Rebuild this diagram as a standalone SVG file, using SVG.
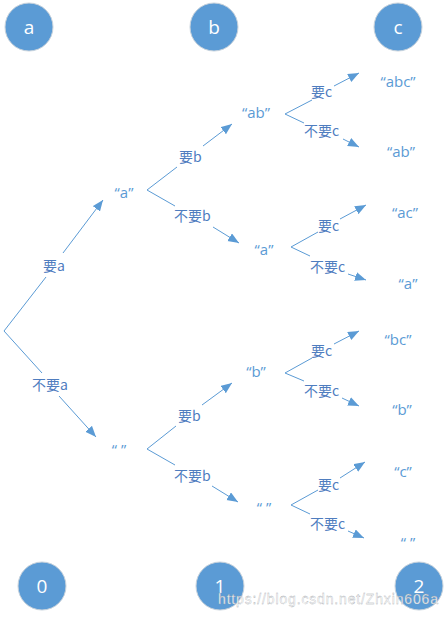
<svg xmlns="http://www.w3.org/2000/svg" width="448" height="618" viewBox="0 0 448 618">
<style>
.n circle{fill:#5B9BD5;stroke:#c9d3dc;stroke-width:1}
.n text{fill:#fff;font-family:"Open Sans","Noto Sans",sans-serif;font-size:19px;text-anchor:middle}
.e line{stroke:#5B9BD5;stroke-width:1;fill:none}
.lbl{fill:#4F7DBF;font-family:"Noto Sans CJK SC","Noto Sans",sans-serif;font-size:14px}
.s{fill:#5B9BD5;font-family:"Open Sans","Noto Sans",sans-serif;font-size:15px;text-anchor:middle}
.wm{fill:#fff;stroke:#9aa0a6;stroke-width:0.3;font-family:"Liberation Sans",Arial,sans-serif;font-size:14px;opacity:0.9}
</style>
<defs>
<marker id="arr" markerUnits="userSpaceOnUse" markerWidth="12" markerHeight="10" refX="11" refY="4.5" orient="auto">
<path d="M0,0 L11,4.5 L0,9 Z" fill="#5B9BD5"/>
</marker>
</defs>
<rect width="448" height="618" fill="#fff"/>
<g id="col-a" class="n"><circle cx="29" cy="27" r="24"/><text x="29" y="34">a</text></g>
<g id="col-b" class="n"><circle cx="214" cy="27" r="24"/><text x="214" y="34">b</text></g>
<g id="col-c" class="n"><circle cx="398" cy="27" r="24"/><text x="398" y="34">c</text></g>
<g id="lvl-0" class="n"><circle cx="42" cy="586" r="24"/><text x="42" y="593">0</text></g>
<g id="lvl-1" class="n"><circle cx="220" cy="586" r="24"/><text x="220" y="593">1</text></g>
<g id="lvl-2" class="n"><circle cx="419" cy="586" r="24"/><text x="419" y="593">2</text></g>
<g id="connectors" class="e">
<line x1="4" y1="331" x2="46" y2="277"/><line x1="63" y1="253" x2="103" y2="200" marker-end="url(#arr)"/>
<line x1="4" y1="331" x2="42" y2="373"/><line x1="59" y1="396" x2="96" y2="437" marker-end="url(#arr)"/>
<line x1="147" y1="190" x2="177" y2="167"/><line x1="203" y1="146" x2="232" y2="124" marker-end="url(#arr)"/>
<line x1="147" y1="190" x2="175" y2="206"/><line x1="213" y1="227" x2="239" y2="243" marker-end="url(#arr)"/>
<line x1="147" y1="449" x2="176" y2="426"/><line x1="202" y1="405" x2="232" y2="383" marker-end="url(#arr)"/>
<line x1="147" y1="449" x2="175" y2="465"/><line x1="212" y1="486" x2="238" y2="502" marker-end="url(#arr)"/>
<line x1="285" y1="114" x2="312" y2="100"/><line x1="334" y1="86" x2="359" y2="73" marker-end="url(#arr)"/>
<line x1="285" y1="114" x2="304" y2="123"/><line x1="343" y1="139" x2="359" y2="147" marker-end="url(#arr)"/>
<line x1="291" y1="247" x2="318" y2="232"/><line x1="340" y1="219" x2="366" y2="205" marker-end="url(#arr)"/>
<line x1="291" y1="247" x2="310" y2="256"/><line x1="348" y1="274" x2="366" y2="280" marker-end="url(#arr)"/>
<line x1="285" y1="373" x2="312" y2="358"/><line x1="334" y1="344" x2="359" y2="331" marker-end="url(#arr)"/>
<line x1="285" y1="373" x2="304" y2="381"/><line x1="342" y1="398" x2="359" y2="406" marker-end="url(#arr)"/>
<line x1="291" y1="505" x2="318" y2="490"/><line x1="340" y1="478" x2="365" y2="462" marker-end="url(#arr)"/>
<line x1="291" y1="505" x2="310" y2="514"/><line x1="348" y1="531" x2="364" y2="538" marker-end="url(#arr)"/>
</g>
<g id="edge-labels">
<text class="lbl" x="43" y="271">要a</text>
<text class="lbl" x="32" y="390">不要a</text>
<text class="lbl" x="179" y="162">要b</text>
<text class="lbl" x="174" y="221">不要b</text>
<text class="lbl" x="178" y="421">要b</text>
<text class="lbl" x="174" y="481">不要b</text>
<text class="lbl" x="311" y="97">要c</text>
<text class="lbl" x="304" y="136">不要c</text>
<text class="lbl" x="318" y="231">要c</text>
<text class="lbl" x="310" y="272">不要c</text>
<text class="lbl" x="311" y="356">要c</text>
<text class="lbl" x="304" y="396">不要c</text>
<text class="lbl" x="318" y="490">要c</text>
<text class="lbl" x="310" y="529">不要c</text>
</g>
<g id="states">
<text class="s" x="124" y="198">“a”</text>
<text class="s" x="119" y="455">“ ”</text>
<text class="s" x="256" y="118">“ab”</text>
<text class="s" x="264" y="255">“a”</text>
<text class="s" x="256" y="377">“b”</text>
<text class="s" x="264" y="513">“ ”</text>
<text class="s" x="398" y="87">“abc”</text>
<text class="s" x="401" y="157">“ab”</text>
<text class="s" x="405" y="218">“ac”</text>
<text class="s" x="408" y="289">“a”</text>
<text class="s" x="398" y="345">“bc”</text>
<text class="s" x="402" y="415">“b”</text>
<text class="s" x="403" y="477">“c”</text>
<text class="s" x="408" y="548">“ ”</text>
</g>
<text class="wm" x="218" y="604" textLength="220">https://blog.csdn.net/Zhxin606a</text>
</svg>
